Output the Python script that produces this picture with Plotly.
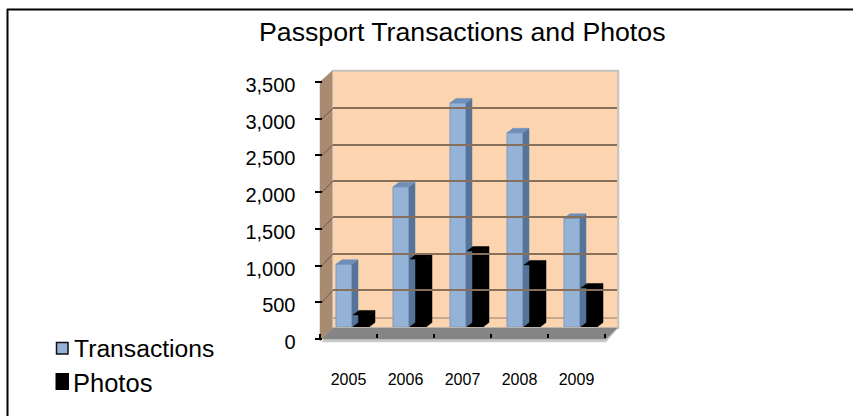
import plotly.graph_objects as go

W, H = 853, 416
years = ["2005", "2006", "2007", "2008", "2009"]
transactions = [860, 1920, 3070, 2660, 1490]
photos = [165, 930, 1040, 850, 535]
axis_ticks = [0, 500, 1000, 1500, 2000, 2500, 3000, 3500]
axis_labels = ["0", "500", "1,000", "1,500", "2,000", "2,500", "3,000", "3,500"]


def fx(p):
    return p / W


def fy(p):
    return 1 - p / H


# pixel geometry of the pseudo-3D box
X0, X1 = 318, 608          # front axis span
PX_UNIT = 36.5 / 500       # pixels per data unit
BASE = 327                 # bar base row
FRONT0, FRONT3500 = 339, 82
WALL0, WALL3500 = 326.4, 72

unit_x = 57.0
bar_w = 16.0 / unit_x
label0 = 348.5
off_t = (336 + 8 - label0) / unit_x
off_p = (353 + 8 - label0) / unit_x
depth_x = 6.0 / unit_x
depth_y = 4.5 / PX_UNIT

xr = [(X0 - label0) / unit_x, (X1 - label0) / unit_x]
bar_ymax = (BASE - 60) / PX_UNIT
tick_boundaries = [(320 + unit_x * i - label0) / unit_x for i in range(6)]

fig = go.Figure()

for ax in ("2", "3", "4"):
    fig.add_trace(go.Scatter(x=[0], y=[0], xaxis="x" + ax, yaxis="y" + ax, mode="markers",
                             marker=dict(opacity=0), showlegend=False, hoverinfo="skip"))


def add_series(vals, off, front, side, top, line, name):
    for i, v in enumerate(vals):
        l = i + off - bar_w / 2
        r = i + off + bar_w / 2
        fig.add_trace(go.Scatter(
            x=[r, r + depth_x, r + depth_x, r, r], y=[0, depth_y, v + depth_y, v, 0],
            mode="lines", fill="toself", fillcolor=side, line=dict(color=side, width=0.5),
            showlegend=False, hoverinfo="skip"))
        fig.add_trace(go.Scatter(
            x=[l, l + depth_x, r + depth_x, r, l], y=[v, v + depth_y, v + depth_y, v, v],
            mode="lines", fill="toself", fillcolor=top, line=dict(color=top, width=0.5),
            showlegend=False, hoverinfo="skip"))
    fig.add_trace(go.Bar(
        x=[i + off for i in range(len(vals))], y=vals, width=bar_w, name=name,
        marker=dict(color=front, line=dict(color=line, width=1)), showlegend=False))


add_series(transactions, off_t, "#95B3D7", "#56749A", "#6F8FB8", "#7F99BD", "Transactions")
add_series(photos, off_p, "#000000", "#000000", "#000000", "#000000", "Photos")

shapes = []


def line(x0, y0, x1, y1, color, width, layer="below"):
    shapes.append(dict(type="line", xref="paper", yref="paper", x0=fx(x0), x1=fx(x1), y0=fy(y0), y1=fy(y1),
                       line=dict(color=color, width=width), layer=layer))


def poly(pts, fill, edge=None):
    d = "M " + " L ".join(f"{fx(a):.5f},{fy(b):.5f}" for a, b in pts) + " Z"
    shapes.append(dict(type="path", xref="paper", yref="paper", path=d, fillcolor=fill,
                       line=dict(color=edge or fill, width=0.5), layer="below"))


# chart frame: only the top and left edges fall inside the picture
line(7, 9.5, W, 9.5, "black", 2)
line(7.5, 9, 7.5, H, "black", 2)

# wall shadow, back wall, side wall, floor
poly([(332, 70), (619, 70), (619, 329), (332, 329)], "#C4C2BF")
poly([(333, 72), (617, 72), (617, 327), (333, 327)], "#FCD4B0")
poly([(320, 82), (332, 71), (332, 329), (320, 341)], "#A98B72")
poly([(322, 342), (333, 328), (618, 328), (606, 342)], "#C8C8C8")
poly([(322, 339), (333, 328), (617, 328), (606, 339)], "#858585")
line(333, 318, 617, 318, "#B79A80", 1.5)
for t in axis_ticks[1:-1]:
    py_front = FRONT0 + (FRONT3500 - FRONT0) * t / 3500
    py_wall = WALL0 + (WALL3500 - WALL0) * t / 3500
    line(322, py_front, 333, py_wall, "#6F5A48", 1)
# legend swatches
shapes.append(dict(type="rect", xref="paper", yref="paper", x0=fx(56.5), x1=fx(68), y0=fy(354), y1=fy(342.5),
                   fillcolor="#95B3D7", line=dict(color="#111111", width=1.5), layer="above"))
shapes.append(dict(type="rect", xref="paper", yref="paper", x0=fx(55.5), x1=fx(69), y0=fy(390), y1=fy(373),
                   fillcolor="#000000", line=dict(color="#000000", width=0), layer="above"))

font = "Liberation Sans"
annotations = [
    dict(x=fx(461.5), y=fy(32), xref="paper", yref="paper", text="Passport Transactions and Photos",
         showarrow=False, font=dict(family=font, size=26.7, color="black"), xanchor="center", yanchor="middle"),
    dict(x=fx(71.5), y=fy(348), xref="paper", yref="paper", text="Transactions", showarrow=False,
         font=dict(family=font, size=24.7, color="black"), xanchor="left", yanchor="middle"),
    dict(x=fx(71), y=fy(383), xref="paper", yref="paper", text="Photos", showarrow=False,
         font=dict(family=font, size=25.5, color="black"), xanchor="left", yanchor="middle"),
]

fig.update_layout(
    width=W, height=H, margin=dict(l=0, r=0, t=0, b=0, pad=0, autoexpand=False),
    paper_bgcolor="white", plot_bgcolor="rgba(0,0,0,0)",
    barmode="overlay", showlegend=False, shapes=shapes, annotations=annotations,
    # data axes
    xaxis=dict(domain=[fx(X0), fx(X1)], range=xr, showgrid=False, zeroline=False, showline=False,
               tickmode="array", tickvals=tick_boundaries, ticktext=[""] * 6,
               ticks="outside", ticklen=4, tickwidth=2, tickcolor="black",
               anchor="free", position=fy(333), automargin=False),
    yaxis=dict(domain=[fy(BASE), fy(60)], range=[0, bar_ymax], visible=False, anchor="x", automargin=False),
    # wall grid
    xaxis2=dict(domain=[fx(333), fx(617)], range=[0, 1], visible=False, anchor="y2", automargin=False),
    yaxis2=dict(domain=[fy(WALL0), fy(WALL3500)], range=[0, 3500], tickvals=axis_ticks, showticklabels=False,
                showgrid=True, gridcolor="#86705C", gridwidth=1.5, zeroline=False, showline=False, ticks="",
                anchor="x2", automargin=False),
    # year and value labels
    xaxis3=dict(domain=[fx(X0), fx(X1)], range=xr, tickmode="array",
                tickvals=list(range(len(years))), ticktext=years, showgrid=False, zeroline=False, showline=False,
                ticks="", tickfont=dict(family=font, size=16, color="black"),
                anchor="free", position=fy(368), automargin=False),
    yaxis3=dict(domain=[fy(FRONT0 + 3), fy(FRONT3500 + 3)], range=[0, 3500], tickmode="array", tickvals=axis_ticks,
                ticktext=axis_labels, showgrid=False, zeroline=False, showline=False, ticks="",
                tickfont=dict(family=font, size=20, color="black"), anchor="free", position=fx(295.5),
                automargin=False),
    # front value ticks
    xaxis4=dict(domain=[fx(X0), fx(X1)], range=xr, visible=False, anchor="y4", automargin=False),
    yaxis4=dict(domain=[fy(FRONT0), fy(FRONT3500)], range=[0, 3500], tickmode="array", tickvals=axis_ticks,
                showticklabels=False, showgrid=False, zeroline=False, showline=False,
                ticks="outside", ticklen=7, tickwidth=2, tickcolor="black",
                anchor="free", position=fx(322), automargin=False),
)

fig.write_html("out.html", config={"displayModeBar": False},
               post_script="document.body.style.margin='0';")
